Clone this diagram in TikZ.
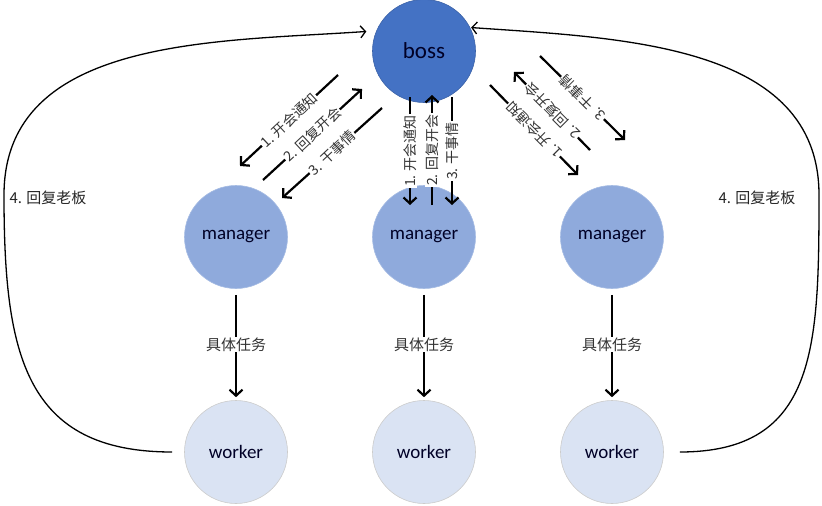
\documentclass[tikz,border=0pt]{standalone}
\usepackage{fontspec}
\setmainfont{Carlito}
\newfontfamily\cjk{Noto Sans CJK SC}
\usetikzlibrary{arrows.meta}
\definecolor{bossblue}{HTML}{4472C4}
\definecolor{mgrblue}{HTML}{8FAADC}
\definecolor{wkrblue}{HTML}{DAE3F3}
\tikzset{
  role/.style={circle, minimum size=103pt, inner sep=0pt, line width=0.6pt,
    font=\fontsize{19}{19}\selectfont, text=black!85!blue},
  call/.style={line width=2.2pt, -{Straight Barb[length=6pt,width=13pt]}},
  callnote/.style={fill=white, inner sep=1pt, text=black!80, font=\cjk\fontsize{14}{14}\selectfont},
  tasknote/.style={callnote, font=\cjk\fontsize{15}{15}\selectfont},
  back/.style={line width=1.3pt, -{Straight Barb[length=5pt,width=12pt]}},
  backnote/.style={text=black!85, font=\cjk\fontsize{15}{15}\selectfont},
}
\begin{document}
\begin{tikzpicture}[x=1pt,y=1pt]
\useasboundingbox[fill=white] (0,0) rectangle (822,-506);
% Roles
\node[role, fill=bossblue, draw=bossblue!85!black, font=\fontsize{23}{23}\selectfont] (boss) at (424,-51) {boss};
\foreach \i/\x in {1/236,2/424,3/612} {
  \node[role, fill=mgrblue, draw=mgrblue!80!white] (m\i) at (\x,-237) {manager};
  \node[role, fill=wkrblue, draw=black!20] (w\i) at (\x,-452) {worker};
  \draw[call, shorten <=6pt, shorten >=3pt] (m\i.south) -- node[tasknote]{具体任务} (w\i.north);
}
% Boss <-> managers
\coordinate (l1a) at (338,-75);  \coordinate (l1b) at (240,-166);
\coordinate (l2a) at (263,-180); \coordinate (l2b) at (362,-89);
\coordinate (l3a) at (382,-108); \coordinate (l3b) at (282,-198);
\coordinate (c1a) at (410,-97);  \coordinate (c1b) at (410,-205);
\coordinate (c2a) at (432,-205); \coordinate (c2b) at (432,-95);
\coordinate (c3a) at (452,-97);  \coordinate (c3b) at (452,-205);
\coordinate (r1a) at (490,-85);  \coordinate (r1b) at (578,-175);
\coordinate (r2a) at (590,-150); \coordinate (r2b) at (514,-72);
\coordinate (r3a) at (540,-56);  \coordinate (r3b) at (625,-140);
\draw[call] (l1a) -- node[callnote, rotate=43]{1. 开会通知} (l1b);
\draw[call] (l2a) -- node[callnote, rotate=43]{2. 回复开会} (l2b);
\draw[call] (l3a) -- node[callnote, rotate=43]{3. 干事情} (l3b);
\draw[call] (c1a) -- node[callnote, rotate=90]{1. 开会通知} (c1b);
\draw[call] (c2a) -- node[callnote, rotate=90]{2. 回复开会} (c2b);
\draw[call] (c3a) -- node[callnote, rotate=90]{3. 干事情} (c3b);
\draw[call] (r1a) -- node[callnote, rotate=135]{1. 开会通知} (r1b);
\draw[call] (r2a) -- node[callnote, rotate=135]{2. 回复开会} (r2b);
\draw[call] (r3a) -- node[callnote, rotate=135]{3. 干事情} (r3b);
% Workers back to boss
\coordinate (lturn) at (4,-195);
\coordinate (rturn) at (819,-195);
\draw[back, shorten <=12pt, shorten >=10pt] (w1.west) to[out=180, in=-90, looseness=1.3] (lturn)
  to[out=90, in=184] (boss.157);
\draw[back, shorten <=16pt, shorten >=1pt] (w3.east) to[out=0, in=-90, looseness=1.3] (rturn)
  to[out=90, in=-4] (boss.27);
\node[backnote] (lnote) at (48,-198) {4. 回复老板};
\node[backnote] (rnote) at (757,-198) {4. 回复老板};
\end{tikzpicture}
\end{document}
